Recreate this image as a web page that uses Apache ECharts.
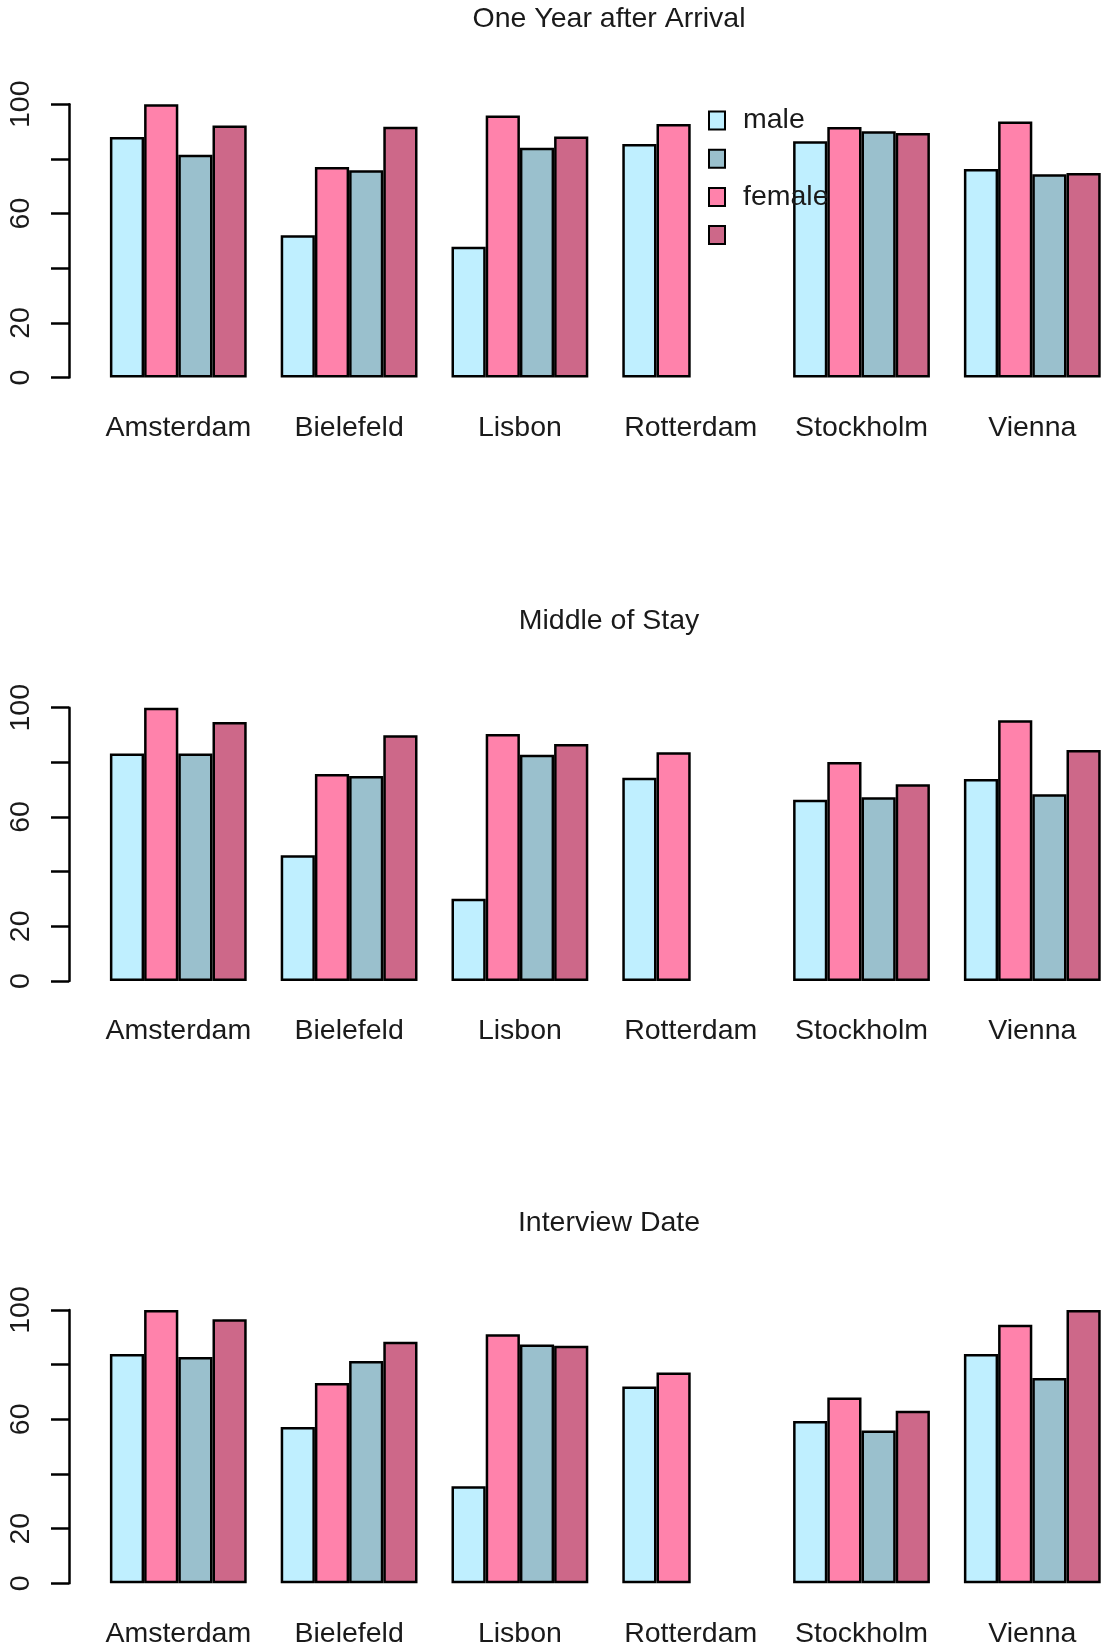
<!DOCTYPE html>
<html>
<head>
<meta charset="utf-8">
<script src="https://cdn.jsdelivr.net/npm/echarts@6/dist/echarts.min.js"></script>
<style>
html, body { margin: 0; padding: 0; background: #fff; }
#main { width: 1104px; height: 1651px; }
</style>
</head>
<body>
<div id="main"></div>
<script>
var cities = ['Amsterdam', 'Bielefeld', 'Lisbon', 'Rotterdam', 'Stockholm', 'Vienna'];
var panelTitles = ['One Year after Arrival', 'Middle of Stay', 'Interview Date'];
var yTicks = [0, 20, 40, 60, 80, 100];
var yLabelsShown = [0, 20, 60, 100];

// bar order inside a group: male, female, male (b), female (b)
var arrivalMale    = [88.0, 52.1, 47.9, 85.5, 86.5, 76.3];
var arrivalFemale  = [100,  77.1, 95.9, 92.8, 91.7, 93.7];
var arrivalMaleB   = [81.5, 75.9, 84.1, null, 90.1, 74.4];
var arrivalFemaleB = [92.2, 91.8, 88.2, null, 89.5, 74.9];

var middleMale    = [83.2, 46.0, 30.1, 74.4, 66.3, 73.9];
var middleFemale  = [100,  75.7, 90.4, 83.7, 80.1, 95.4];
var middleMaleB   = [83.2, 75.0, 82.8, null, 67.2, 68.3];
var middleFemaleB = [94.8, 89.9, 86.7, null, 72.0, 84.5];

var interviewMale    = [83.9, 57.2, 35.5, 72.0, 59.4, 83.9];
var interviewFemale  = [100,  73.3, 91.1, 77.1, 68.0, 94.6];
var interviewMaleB   = [82.8, 81.3, 87.4, null, 55.9, 75.1];
var interviewFemaleB = [96.6, 88.4, 86.9, null, 63.1, 100];

var seriesNames = ['male', 'female', 'male (b)', 'female (b)'];
var legendOrder = ['male', 'male (b)', 'female', 'female (b)'];
var legendShown = ['male', 'female'];
var barColors = ['#BFEFFF', '#FF82AB', '#9AC0CD', '#CD6889'];

var panels = [
    [arrivalMale, arrivalFemale, arrivalMaleB, arrivalFemaleB],
    [middleMale, middleFemale, middleMaleB, middleFemaleB],
    [interviewMale, interviewFemale, interviewMaleB, interviewFemaleB]
];

var font = 'Liberation Sans, Arial, sans-serif';
var txt = '#1a1a1a';
var fs = 28.5;
var gridTops = [104.3, 707.7, 1310];
var titleTops = [0, 602, 1204];

var titles = [], grids = [], xAxes = [], yAxes = [], series = [];

panels.forEach(function (p, i) {
    titles.push({
        text: panelTitles[i],
        left: 604,
        top: titleTops[i],
        textAlign: 'center',
        textStyle: { fontFamily: font, fontSize: fs, fontWeight: 'normal', color: txt }
    });
    // categories sit on points: first group centre to last group centre
    grids.push({ left: 178.3, width: 854, top: gridTops[i], height: 273.3 });
    xAxes.push({
        type: 'category',
        gridIndex: i,
        data: cities,
        boundaryGap: false,
        axisLine: { show: false },
        axisTick: { show: false },
        axisLabel: { interval: 0, margin: 36, fontFamily: font, fontSize: fs, color: txt }
    });
    yAxes.push({
        type: 'value',
        gridIndex: i,
        min: 0,
        max: 100,
        interval: 20,
        offset: 109.3,
        splitLine: { show: false },
        axisLine: { show: true, lineStyle: { color: '#000', width: 2.5 } },
        axisTick: { show: true, length: 18, lineStyle: { color: '#000', width: 2.5 } },
        axisLabel: {
            rotate: 90,
            margin: 33,
            fontFamily: font,
            fontSize: fs,
            color: txt,
            formatter: function (v) {
                return yLabelsShown.indexOf(v) >= 0 ? String(v) : '';
            }
        }
    });
    p.forEach(function (vals, k) {
        series.push({
            name: seriesNames[k],
            type: 'bar',
            xAxisIndex: i,
            yAxisIndex: i,
            data: vals,
            barWidth: 34.2,
            barGap: '0%',
            itemStyle: { color: barColors[k], borderColor: '#000', borderWidth: 2.5 }
        });
    });
});

var option = {
    animation: false,
    backgroundColor: '#fff',
    title: titles,
    legend: {
        data: legendOrder,
        orient: 'vertical',
        left: 708,
        top: 106,
        padding: 0,
        icon: 'rect',
        itemWidth: 16,
        itemHeight: 18,
        itemGap: 13.7,
        itemStyle: { borderColor: '#000', borderWidth: 2 },
        selectedMode: false,
        formatter: function (name) {
            return legendShown.indexOf(name) >= 0 ? name : '';
        },
        textStyle: { fontFamily: font, fontSize: fs, color: txt, padding: [4, 0, 0, 13] }
    },
    grid: grids,
    xAxis: xAxes,
    yAxis: yAxes,
    series: series
};

var myChart = echarts.init(document.getElementById('main'));
myChart.setOption(option);
</script>
</body>
</html>
